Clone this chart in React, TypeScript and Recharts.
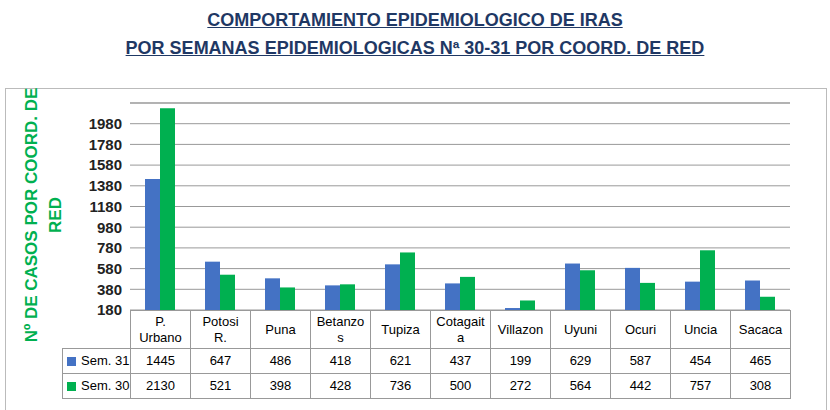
import { BarChart, Bar, XAxis, YAxis, CartesianGrid, ReferenceLine } from 'recharts'

const categories = ['P. Urbano', 'Potosi R.', 'Puna', 'Betanzos', 'Tupiza', 'Cotagaita', 'Villazon', 'Uyuni', 'Ocuri', 'Uncia', 'Sacaca']
const tableLabels = ['P.\nUrbano', 'Potosi\nR.', 'Puna', 'Betanzo\ns', 'Tupiza', 'Cotagait\na', 'Villazon', 'Uyuni', 'Ocuri', 'Uncia', 'Sacaca']
const sem31 = [1445, 647, 486, 418, 621, 437, 199, 629, 587, 454, 465]
const sem30 = [2130, 521, 398, 428, 736, 500, 272, 564, 442, 757, 308]
const yTicks = [180, 380, 580, 780, 980, 1180, 1380, 1580, 1780, 1980]

const BLUE = '#4472C4'
const GREEN = '#00B050'
const font = '"Liberation Sans", Arial, sans-serif'

const data = categories.map((c, i) => ({ name: c, s31: sem31[i], s30: sem30[i] }))

const titleStyle: React.CSSProperties = {
  position: 'absolute', left: 0, width: 830, textAlign: 'center', color: '#1F3864',
  fontWeight: 'bold', fontSize: 18, textDecoration: 'underline', fontFamily: font,
}

export default function App() {
  const colW = 60
  const x0 = 130
  const cell: React.CSSProperties = {
    position: 'absolute', border: '1px solid #999', boxSizing: 'border-box', display: 'flex',
    alignItems: 'center', justifyContent: 'center', fontSize: 13, textAlign: 'center', whiteSpace: 'pre', lineHeight: '16px',
  }
  const rows = [
    { label: 'Sem. 31', color: BLUE, vals: sem31, top: 348 },
    { label: 'Sem. 30', color: GREEN, vals: sem30, top: 373 },
  ]
  return (
    <div style={{ position: 'absolute', left: 0, top: 0, width: 830, height: 410, background: '#fff', fontFamily: font, overflow: 'hidden' }}>
      <div style={{ ...titleStyle, top: 10 }}>COMPORTAMIENTO EPIDEMIOLOGICO DE IRAS</div>
      <div style={{ ...titleStyle, top: 38 }}>POR SEMANAS EPIDEMIOLOGICAS Nª 30-31 POR COORD. DE RED</div>
      <div style={{ position: 'absolute', left: 5, top: 88, width: 822, height: 330, border: '1px solid #bbb', boxSizing: 'border-box' }} />
      <div style={{ position: 'absolute', left: 44, top: 215, width: 0, height: 0 }}>
        <div style={{ position: 'absolute', transform: 'translate(-50%,-50%) rotate(-90deg)', width: 290, textAlign: 'center', color: GREEN, fontWeight: 'bold', fontSize: 17, lineHeight: '24px' }}>
          Nº DE CASOS POR COORD. DE RED
        </div>
      </div>
      <div style={{ position: 'absolute', left: 0, top: 88 }}>
        <BarChart width={830} height={230} data={data} margin={{ top: 15, right: 40, left: 70, bottom: 8 }} barGap={0} barCategoryGap={15}>
          <CartesianGrid vertical={false} stroke="#999" />
          <XAxis dataKey="name" hide />
          <YAxis width={60} domain={[180, 2180]} ticks={yTicks} interval={0} allowDataOverflow axisLine={false} tickLine={false}
            tick={{ fontSize: 15, fontWeight: 'bold', fill: '#222', fontFamily: font }} />
          <ReferenceLine y={2180} stroke="#999" />
          <Bar dataKey="s31" fill={BLUE} isAnimationActive={false} />
          <Bar dataKey="s30" fill={GREEN} isAnimationActive={false} />
        </BarChart>
      </div>
      {tableLabels.map((l, i) => (
        <div key={l} style={{ ...cell, left: x0 + i * colW, top: 310, width: colW + 1, height: 39 }}>{l}</div>
      ))}
      {rows.map(r => (
        <div key={r.label}>
          <div style={{ ...cell, left: 62, top: r.top, width: 69, height: 26, justifyContent: 'flex-start', paddingLeft: 4 }}>
            <span style={{ display: 'inline-block', width: 9, height: 9, background: r.color, marginRight: 5 }} />{r.label}
          </div>
          {r.vals.map((v, i) => (
            <div key={i} style={{ ...cell, left: x0 + i * colW, top: r.top, width: colW + 1, height: 26 }}>{v}</div>
          ))}
        </div>
      ))}
    </div>
  )
}
